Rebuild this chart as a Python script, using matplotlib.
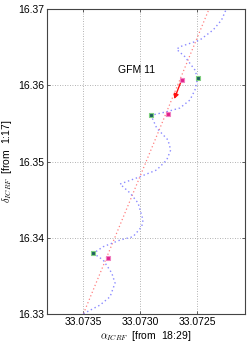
import matplotlib
matplotlib.use("Agg")
import matplotlib.pyplot as plt

plt.rcParams['font.family'] = ['Liberation Sans', 'DejaVu Sans']
plt.rcParams['mathtext.fontset'] = 'cm'

# apparent path (blue), bottom to top
path_ra = [33.07350, 33.073354, 33.073266, 33.073222, 33.073251, 33.073327,
           33.073412, 33.073327, 33.073178, 33.073064, 33.072988, 33.072976,
           33.073020, 33.073090, 33.073178, 33.073003, 33.072856, 33.072768,
           33.072733, 33.072757, 33.072856, 33.072906, 33.072768, 33.072652,
           33.072564, 33.072520, 33.072497, 33.072520, 33.072564, 33.072608,
           33.072681, 33.072652, 33.072477, 33.072360, 33.072286, 33.072248]
path_dec = [16.33000, 16.33114, 16.33223, 16.33403, 16.33535, 16.33706,
            16.33794, 16.33880, 16.33968, 16.34012, 16.34143, 16.34231,
            16.34455, 16.34586, 16.34704, 16.34800, 16.34889, 16.35020,
            16.35151, 16.35283, 16.35440, 16.35607, 16.35654, 16.35703,
            16.35808, 16.35939, 16.36093, 16.36202, 16.36290, 16.36377,
            16.36474, 16.36508, 16.36596, 16.36728, 16.36859, 16.36991]

# proper motion line (red)
pm_ra = [33.07350, 33.072397]
pm_dec = [16.33, 16.37]

# observed positions (green) and model positions (magenta)
obs_ra = [33.073412, 33.072906, 33.072497]
obs_dec = [16.33794, 16.35607, 16.36093]
mod_ra = [33.073283, 33.072760, 33.072637]
mod_dec = [16.33732, 16.35628, 16.36071]

# arrow
arr_start = (33.072637, 16.36071)
arr_end = (33.072702, 16.35821)

fig = plt.figure(figsize=(2.5, 3.44), dpi=100)
ax = fig.add_axes([0.188, 0.088, 0.792, 0.885])

ax.plot(pm_ra, pm_dec, linestyle=(0, (1, 2)), color='#ff8080', lw=0.9)
ax.plot(path_ra, path_dec, linestyle=(0, (1, 2)), color='#8a8aff', lw=1.0)

ax.plot(obs_ra, obs_dec, 's', ms=3.5, mfc='#1f6060', mec='#7fd07f', mew=0.8, zorder=5)
ax.plot(mod_ra, mod_dec, 's', ms=3.5, mfc='#e0208a', mec='#f080c0', mew=0.8, zorder=5)

ax.annotate('', xy=arr_end, xytext=arr_start,
            arrowprops=dict(arrowstyle='-|>', color='#ff1010', lw=1.0,
                            mutation_scale=7, shrinkA=0, shrinkB=0))

ax.text(33.073196, 16.36202, 'GFM 11', fontsize=7.5, va='center', ha='left')

ax.set_xlim(33.07382, 33.07208)
ax.set_ylim(16.33, 16.37)
ax.set_xticks([33.0735, 33.0730, 33.0725])
ax.set_xticklabels(['33.0735', '33.0730', '33.0725'])
ax.set_yticks([16.33, 16.34, 16.35, 16.36, 16.37])
ax.set_yticklabels(['16.33', '16.34', '16.35', '16.36', '16.37'])
ax.tick_params(direction='in', top=True, right=True, length=2.5, width=0.6,
               labelsize=7.5, pad=2, color='#444444')
ax.grid(True, linestyle=(0, (1, 2)), color='#999999', lw=0.6)
for s in ax.spines.values():
    s.set_linewidth(0.8)
    s.set_color('#444444')

ax.set_xlabel(r'$\alpha_{ICRF}$  [from  18:29]', fontsize=7.5, labelpad=2)
ax.set_ylabel(r'$\delta_{ICRF}$  [from  1:17]', fontsize=7.5, labelpad=3)

fig.savefig('out.png', dpi=100)
